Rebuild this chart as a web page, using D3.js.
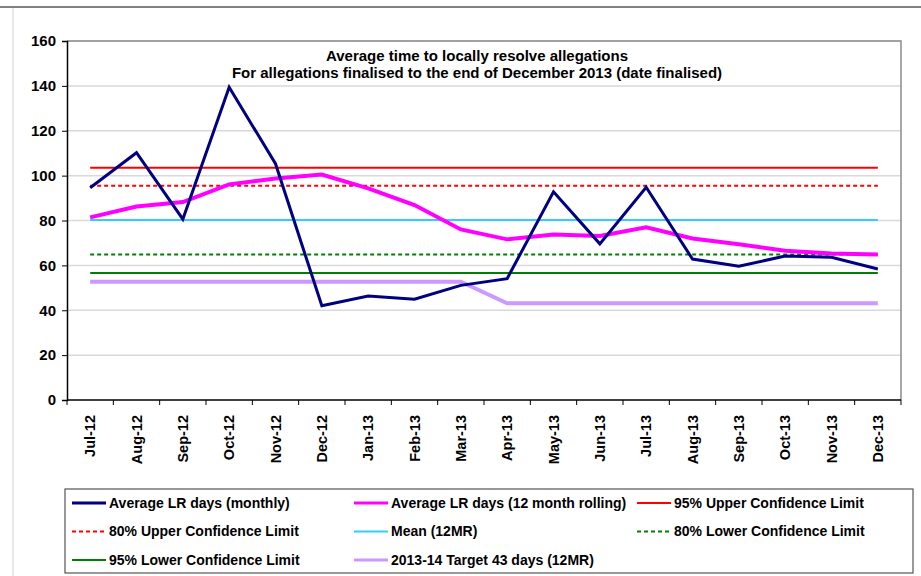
<!DOCTYPE html>
<html>
<head>
<meta charset="utf-8">
<script src="https://cdn.jsdelivr.net/npm/d3@7"></script>
<style>
  body { margin: 0; background: #fff; }
  svg text { font-family: "Liberation Sans", Arial, sans-serif; font-weight: bold; fill: #000; }
</style>
</head>
<body>
<div id="chart"></div>
<script>
// months on the x axis
const months = ["Jul-12", "Aug-12", "Sep-12", "Oct-12", "Nov-12", "Dec-12", "Jan-13", "Feb-13", "Mar-13",
  "Apr-13", "May-13", "Jun-13", "Jul-13", "Aug-13", "Sep-13", "Oct-13", "Nov-13", "Dec-13"];

// series
const monthly = [94.6, 110.2, 80.6, 139.4, 105.3, 42.0, 46.3, 44.9, 51.1, 54.1, 92.8, 69.6, 94.8, 62.8, 59.6, 64.2, 63.6, 58.4];
const rolling = [81.4, 86.2, 88.2, 96.1, 98.7, 100.5, 94.3, 86.9, 76.0, 71.6, 73.8, 73.1, 77.0, 72.0, 69.4, 66.5, 65.3, 64.9];
const ucl95 = months.map(() => 103.5);
const ucl80 = months.map(() => 95.5);
const mean12 = months.map(() => 80.2);
const lcl80 = months.map(() => 64.9);
const lcl95 = months.map(() => 56.6);
const target = [52.7, 52.7, 52.7, 52.7, 52.7, 52.7, 52.7, 52.7, 52.7, 43.1, 43.1, 43.1, 43.1, 43.1, 43.1, 43.1, 43.1, 43.1];

const yTicks = [0, 20, 40, 60, 80, 100, 120, 140, 160];

const titleLines = ["Average time to locally resolve allegations",
  "For allegations finalised  to the end of December 2013 (date finalised)"];

const series = [
  { name: "Average LR days (monthly)", values: monthly, color: "#000080", width: 3, dash: null },
  { name: "Average LR days (12 month rolling)", values: rolling, color: "#ff00ff", width: 4, dash: null },
  { name: "95% Upper Confidence Limit", values: ucl95, color: "#ff0000", width: 2, dash: null },
  { name: "80% Upper Confidence Limit", values: ucl80, color: "#ff0000", width: 2, dash: "4,3" },
  { name: "Mean (12MR)", values: mean12, color: "#33ccff", width: 2, dash: null },
  { name: "80% Lower Confidence Limit", values: lcl80, color: "#008000", width: 2, dash: "4,3" },
  { name: "95% Lower Confidence Limit", values: lcl95, color: "#008000", width: 2, dash: null },
  { name: "2013-14 Target 43 days (12MR)", values: target, color: "#cc99ff", width: 4, dash: null }
];

const width = 921, height = 576;
const plot = { left: 67, top: 41, right: 901, bottom: 400 };

const svg = d3.select("#chart").append("svg")
  .attr("width", width)
  .attr("height", height);

// outer frame bits
svg.append("line").attr("x1", 0).attr("x2", width).attr("y1", 7).attr("y2", 7)
  .attr("stroke", "#808080").attr("stroke-width", 2);
svg.append("line").attr("x1", 13).attr("x2", 13).attr("y1", 8).attr("y2", height)
  .attr("stroke", "#d0d0d0").attr("stroke-width", 1);

const x = d3.scaleBand().domain(months).range([plot.left, plot.right]);
const y = d3.scaleLinear().domain([0, 160]).range([plot.bottom, plot.top]);
const cx = m => x(m) + x.bandwidth() / 2;

// gridlines
svg.append("g").selectAll("line").data(yTicks.filter(d => d > 0)).enter().append("line")
  .attr("x1", plot.left).attr("x2", plot.right)
  .attr("y1", d => y(d)).attr("y2", d => y(d))
  .attr("stroke", "#d9d9d9").attr("stroke-width", 1.5);

// plot border (top + right)
svg.append("path")
  .attr("d", `M${plot.left},${plot.top}H${plot.right}V${plot.bottom}`)
  .attr("fill", "none").attr("stroke", "#8c8c8c").attr("stroke-width", 1.5);

// y axis
const yAxis = svg.append("g").attr("transform", `translate(${plot.left},0)`)
  .call(d3.axisLeft(y).tickValues(yTicks).tickSize(5).tickPadding(6));
yAxis.select(".domain").attr("stroke", "#000").attr("stroke-width", 1.5);
yAxis.selectAll(".tick line").attr("stroke", "#000");
yAxis.selectAll("text").attr("font-size", 15).attr("font-family", "Liberation Sans, Arial, sans-serif")
  .attr("font-weight", "bold").attr("fill", "#000");

// x axis: ticks at category boundaries
const xAxis = svg.append("g").attr("transform", `translate(0,${plot.bottom})`);
xAxis.append("line").attr("x1", plot.left).attr("x2", plot.right).attr("y1", 0).attr("y2", 0)
  .attr("stroke", "#000").attr("stroke-width", 1.5);
xAxis.selectAll(".xt").data(months.concat(["end"])).enter().append("line")
  .attr("class", "xt")
  .attr("x1", (d, i) => plot.left + i * x.bandwidth())
  .attr("x2", (d, i) => plot.left + i * x.bandwidth())
  .attr("y1", 0).attr("y2", 5).attr("stroke", "#000");
xAxis.selectAll(".xl").data(months).enter().append("text")
  .attr("class", "xl")
  .attr("transform", d => `translate(${cx(d)},15) rotate(-90)`)
  .attr("text-anchor", "end")
  .attr("dy", "0.35em")
  .attr("font-size", 14.5)
  .text(d => d);

// lines
const line = d3.line().x((d, i) => cx(months[i])).y(d => y(d));
// draw reference lines first, then rolling & monthly on top
const drawOrder = [2, 3, 4, 5, 6, 7, 1, 0];
drawOrder.forEach(k => {
  const s = series[k];
  svg.append("path")
    .datum(s.values)
    .attr("d", line)
    .attr("fill", "none")
    .attr("stroke", s.color)
    .attr("stroke-width", s.width)
    .attr("stroke-dasharray", s.dash)
    .attr("stroke-linejoin", "miter");
});

// title
svg.append("g").selectAll("text").data(titleLines).enter().append("text")
  .attr("x", 477).attr("y", (d, i) => 61 + i * 17)
  .attr("text-anchor", "middle")
  .attr("font-size", 15)
  .text(d => d);

// legend
const legend = svg.append("g");
legend.append("rect").attr("x", 65).attr("y", 489).attr("width", 848).attr("height", 84)
  .attr("fill", "#fff").attr("stroke", "#555").attr("stroke-width", 1.2);
const colX = [72, 354, 637];
const rowY = [503, 531.5, 560];
series.forEach((s, i) => {
  const lx = colX[i % 3], ly = rowY[Math.floor(i / 3)];
  legend.append("line").attr("x1", lx).attr("x2", lx + 34).attr("y1", ly).attr("y2", ly)
    .attr("stroke", s.color).attr("stroke-width", Math.min(s.width, 3)).attr("stroke-dasharray", s.dash);
  legend.append("text").attr("x", lx + 37).attr("y", ly).attr("dy", "0.35em")
    .attr("font-size", 14).text(s.name);
});
</script>
</body>
</html>
